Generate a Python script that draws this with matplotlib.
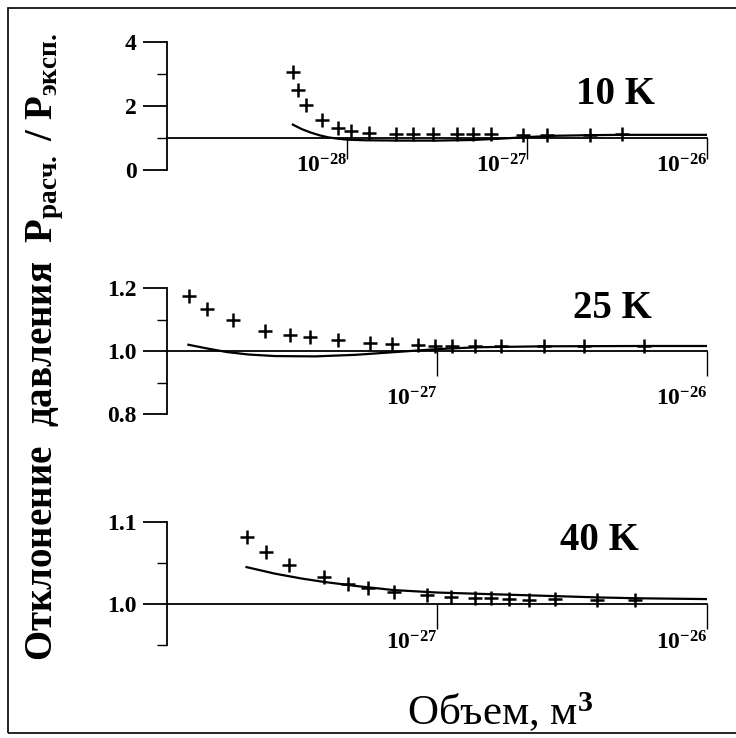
import matplotlib
matplotlib.use('Agg')
import matplotlib.pyplot as plt
from matplotlib.ticker import NullLocator
from matplotlib.patches import Rectangle

plt.rcParams['font.family'] = 'Liberation Serif'
plt.rcParams['font.weight'] = 'bold'
plt.rcParams['mathtext.fontset'] = 'custom'
plt.rcParams['mathtext.rm'] = 'Liberation Serif'
plt.rcParams['mathtext.bf'] = 'Liberation Serif:bold'
plt.rcParams['mathtext.it'] = 'Liberation Serif:italic'

# 10 K
v10_exp = [5.01e-29, 5.37e-29, 5.89e-29, 7.24e-29, 8.91e-29, 1.05e-28, 1.32e-28, 1.86e-28,
           2.34e-28, 3.02e-28, 4.07e-28, 5.01e-28, 6.31e-28, 9.55e-28, 1.29e-27, 2.24e-27, 3.39e-27]
r10_exp = [3.05, 2.50, 2.02, 1.55, 1.32, 1.22, 1.17, 1.12, 1.12, 1.12, 1.12, 1.12, 1.12,
           1.10, 1.10, 1.10, 1.12]
v10_calc = [5.0e-29, 5.6e-29, 6.3e-29, 7.1e-29, 7.9e-29, 8.9e-29, 1.0e-28, 1.26e-28, 2.0e-28,
            3.16e-28, 5.0e-28, 7.1e-28, 1.0e-27, 1.41e-27, 2.24e-27, 3.39e-27, 1.0e-26]
r10_calc = [1.42, 1.28, 1.17, 1.08, 1.02, 0.98, 0.95, 0.93, 0.92, 0.92, 0.94, 0.98, 1.03,
            1.07, 1.09, 1.10, 1.10]

# 25 K
v25_exp = [1.21e-28, 1.41e-28, 1.75e-28, 2.31e-28, 2.86e-28, 3.40e-28, 4.29e-28, 5.64e-28,
           6.81e-28, 8.49e-28, 9.84e-28, 1.14e-27, 1.38e-27, 1.73e-27, 2.48e-27, 3.49e-27, 5.83e-27]
r25_exp = [1.175, 1.135, 1.098, 1.065, 1.052, 1.045, 1.035, 1.024, 1.022, 1.020, 1.017,
           1.017, 1.016, 1.016, 1.016, 1.016, 1.015]
v25_calc = [1.2e-28, 1.41e-28, 1.66e-28, 2.0e-28, 2.51e-28, 3.55e-28, 5.0e-28, 7.08e-28,
            1.0e-27, 1.41e-27, 2.51e-27, 5.89e-27, 1.0e-26]
r25_calc = [1.020, 1.008, 0.997, 0.989, 0.984, 0.983, 0.988, 0.997, 1.006, 1.012, 1.015,
            1.016, 1.016]

# 40 K
v40_exp = [1.97e-28, 2.33e-28, 2.83e-28, 3.81e-28, 4.67e-28, 5.57e-28, 6.95e-28, 9.18e-28,
           1.13e-27, 1.38e-27, 1.58e-27, 1.85e-27, 2.20e-27, 2.74e-27, 3.91e-27, 5.43e-27]
r40_exp = [1.082, 1.063, 1.048, 1.033, 1.024, 1.019, 1.015, 1.011, 1.0085, 1.007, 1.007,
           1.0065, 1.0045, 1.0057, 1.0045, 1.0045]
v40_calc = [1.97e-28, 2.51e-28, 3.16e-28, 3.8e-28, 5.0e-28, 6.9e-28, 1.0e-27, 1.58e-27,
            2.51e-27, 3.98e-27, 5.5e-27, 1.0e-26]
r40_calc = [1.045, 1.037, 1.031, 1.027, 1.022, 1.017, 1.014, 1.012, 1.010, 1.008, 1.007, 1.006]

labels_t = ['10 K', '25 K', '40 K']


def setup(ax, xlim, ylim, yt, ytl, ytm, xt, xtl, xlen=15, xpad=-4):
    ax.set_xscale('log')
    ax.set_xlim(xlim)
    ax.set_ylim(ylim)
    ax.patch.set_visible(False)
    ax.spines['top'].set_visible(False)
    ax.spines['right'].set_visible(False)
    ax.spines['bottom'].set_position(('data', 1.0))
    ax.spines['left'].set_linewidth(1.3)
    ax.spines['bottom'].set_linewidth(1.3)
    ax.set_yticks(yt, ytl)
    ax.set_yticks(ytm, minor=True)
    ax.tick_params(axis='y', which='major', length=17, width=1.3, direction='out',
                   labelsize=17, pad=5)
    ax.tick_params(axis='y', which='minor', length=7, width=1.0, direction='out')
    ax.set_xticks(xt, xtl)
    ax.xaxis.set_minor_locator(NullLocator())
    ax.tick_params(axis='x', which='major', length=xlen, width=1.0, direction='out',
                   labelsize=17, pad=xpad)
    for lab in ax.get_xticklabels():
        lab.set_horizontalalignment('right')


def curve(ax, v_exp, r_exp, v_calc, r_calc):
    ax.plot(v_calc, r_calc, color='black', lw=1.6)
    ax.plot(v_exp, r_exp, ls='none', marker='+', ms=10, mew=1.8, color='black')


fig = plt.figure(figsize=(7.36, 7.38), dpi=100)

ax1 = fig.add_axes([0.2269, 0.7696, 0.7337, 0.1734])
setup(ax1, (1e-29, 1e-26), (0, 4), [0, 2, 4], ['0', '2', '4'], [1, 3],
      [1e-28, 1e-27, 1e-26], [r'$\mathbf{10^{-28}}$', r'$\mathbf{10^{-27}}$', r'$\mathbf{10^{-26}}$'],
      xlen=15, xpad=-3)
curve(ax1, v10_exp, r10_exp, v10_calc, r10_calc)
ax1.text(0.83, 0.59, labels_t[0], transform=ax1.transAxes, ha='center', va='center', fontsize=28)

ax2 = fig.add_axes([0.2269, 0.4390, 0.7337, 0.1707])
setup(ax2, (1e-28, 1e-26), (0.8, 1.2), [0.8, 1.0, 1.2], ['0.8', '1.0', '1.2'], [0.9, 1.1],
      [1e-27, 1e-26], [r'$\mathbf{10^{-27}}$', r'$\mathbf{10^{-26}}$'], xlen=18, xpad=8)
curve(ax2, v25_exp, r25_exp, v25_calc, r25_calc)
ax2.text(0.825, 0.84, labels_t[1], transform=ax2.transAxes, ha='center', va='center', fontsize=28)

ax3 = fig.add_axes([0.2269, 0.1260, 0.7337, 0.1667])
setup(ax3, (1e-28, 1e-26), (0.95, 1.1), [1.0, 1.1], ['1.0', '1.1'], [0.95, 1.05],
      [1e-27, 1e-26], [r'$\mathbf{10^{-27}}$', r'$\mathbf{10^{-26}}$'], xlen=18, xpad=2)
curve(ax3, v40_exp, r40_exp, v40_calc, r40_calc)
ax3.text(0.80, 0.85, labels_t[2], transform=ax3.transAxes, ha='center', va='center', fontsize=28)

fig.text(0.061, 0.53, r'Отклонение  давления  $\mathbf{P_{расч.}}$ / $\mathbf{P_{эксп.}}$',
         rotation=90, ha='center', va='center', fontsize=28, fontweight='bold')
fig.text(0.68, 0.035, r'Объем, м$^3$', ha='center', va='center', fontsize=31,
         fontweight='normal')

fig.add_artist(Rectangle((8 / 736, 5 / 738), 1.0, 1 - 13 / 738, transform=fig.transFigure,
                         fill=False, lw=1.2, color='black'))

fig.savefig('out.png', dpi=100)
